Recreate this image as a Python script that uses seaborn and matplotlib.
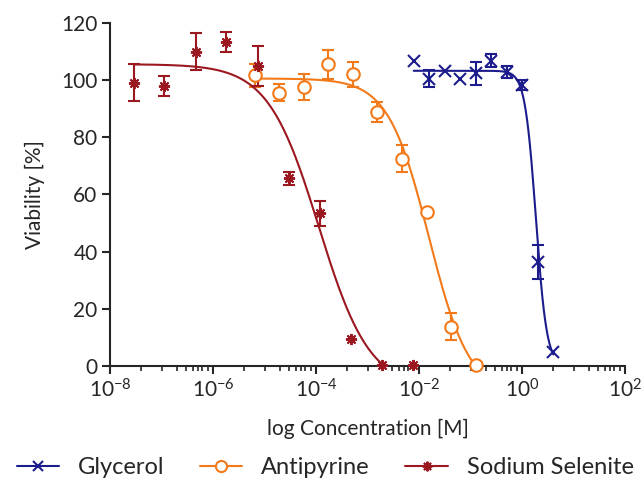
import numpy as np
import pandas as pd
import matplotlib
matplotlib.use('Agg')
import matplotlib.pyplot as plt
import seaborn as sns
from matplotlib.lines import Line2D
from matplotlib.ticker import FixedLocator, LogFormatterMathtext, NullFormatter

# ---- data ----
compounds = ['Glycerol', 'Antipyrine', 'Sodium Selenite']
colors = ['#1c1c8c', '#f27a1a', '#9c1820']

glycerol_conc = [0.0078, 0.0156, 0.03125, 0.0625, 0.125, 0.25, 0.5, 1.0, 2.0, 4.0]
glycerol_via = [106.7, 100.5, 103.2, 100.2, 102.3, 106.7, 102.8, 98.2, 36.4, 5.0]
glycerol_sd = [0, 2.8, 0, 0, 4.1, 2.2, 2.0, 1.7, 6.0, 0]

antipyrine_conc = [6.4e-6, 1.9e-5, 5.7e-5, 1.7e-4, 5.1e-4, 1.5e-3, 4.6e-3, 1.4e-2, 4.2e-2, 1.25e-1]
antipyrine_via = [101.7, 95.6, 97.6, 105.5, 101.9, 88.8, 72.5, 53.7, 13.7, 0.3]
antipyrine_sd = [4.0, 2.9, 4.5, 5.1, 4.3, 3.5, 4.7, 0, 4.7, 0]

selenite_conc = [2.9e-8, 1.1e-7, 4.6e-7, 1.8e-6, 7.3e-6, 2.9e-5, 1.2e-4, 4.7e-4, 1.9e-3, 7.5e-3]
selenite_via = [99.1, 97.8, 109.8, 113.3, 104.9, 65.6, 53.4, 9.4, 0.3, 0.3]
selenite_sd = [6.5, 3.5, 6.5, 3.6, 7.0, 2.4, 4.3, 0, 0, 0]

# fitted 4PL curves: top, bottom, logIC50, hill slope
glycerol_fit = [103.2, 0.0, 0.264, 4.1]
antipyrine_fit = [100.5, -10.0, -1.815, 1.10]
selenite_fit = [105.5, -8.0, -3.95, 0.88]

rows = []
for name, conc, via, sd in zip(compounds,
                               [glycerol_conc, antipyrine_conc, selenite_conc],
                               [glycerol_via, antipyrine_via, selenite_via],
                               [glycerol_sd, antipyrine_sd, selenite_sd]):
    for c, v, s in zip(conc, via, sd):
        rows.append({'compound': name, 'conc': c, 'viability': v, 'sd': s})
df = pd.DataFrame(rows)


def fit_curve(conc, params):
    top, bottom, logic50, hill = params
    lx = np.linspace(np.log10(min(conc)), np.log10(max(conc)), 400)
    y = bottom + (top - bottom) / (1 + 10 ** (hill * (lx - logic50)))
    keep = y >= 0
    return pd.DataFrame({'conc': 10 ** lx[keep], 'viability': y[keep]})


# marker styles per compound (Prism-like symbols)
marker_kw = {
    'Glycerol': dict(marker='x', ms=8, mew=1.5),
    'Antipyrine': dict(marker='o', ms=9, mfc='white', mew=1.5),
    'Sodium Selenite': dict(marker=(8, 2, 0), ms=8, mew=1.4),
}

sns.set_style('ticks')
plt.rcParams['font.family'] = ['Lato', 'DejaVu Sans']
plt.rcParams['mathtext.default'] = 'regular'
txt = '#262626'

fig = plt.figure(figsize=(6.44, 4.83), dpi=100)
ax = fig.add_axes([0.171, 0.242, 0.80, 0.711])
ax.set_xscale('log')

fits = [glycerol_fit, antipyrine_fit, selenite_fit]
concs = [glycerol_conc, antipyrine_conc, selenite_conc]
for name, col, fit, conc in zip(compounds, colors, fits, concs):
    curve = fit_curve(conc, fit)
    sns.lineplot(data=curve, x='conc', y='viability', ax=ax, color=col,
                 lw=1.5, sort=False, estimator=None)
    sub = df[df['compound'] == name]
    has_err = sub[sub['sd'] > 0]
    ax.errorbar(has_err['conc'], has_err['viability'], yerr=has_err['sd'],
                fmt='none', ecolor=col, elinewidth=1.5, capsize=4,
                capthick=1.5, clip_on=False)
    ax.plot(sub['conc'], sub['viability'], ls='none', color=col, mec=col,
            clip_on=False, zorder=4, **marker_kw[name])

ax.set_xlim(1e-8, 1e2)
ax.set_ylim(0, 120)
ax.set_yticks([0, 20, 40, 60, 80, 100, 120])
ax.xaxis.set_major_locator(FixedLocator([1e-8, 1e-6, 1e-4, 1e-2, 1e0, 1e2]))
ax.xaxis.set_major_formatter(LogFormatterMathtext())
minor = []
for dec in [-8, -6, -4, -2, 0]:
    for m in [4, 10, 20, 30, 40, 50, 60, 80]:
        minor.append(m * 10.0 ** dec)
ax.xaxis.set_minor_locator(FixedLocator(minor))
ax.xaxis.set_minor_formatter(NullFormatter())

for side in ['top', 'right']:
    ax.spines[side].set_visible(False)
for side in ['left', 'bottom']:
    ax.spines[side].set_linewidth(1.5)
    ax.spines[side].set_color(txt)
ax.tick_params(axis='both', which='major', length=6, width=1.5,
               labelsize=15, colors=txt, labelcolor=txt, pad=3)
ax.tick_params(axis='x', which='minor', length=3.5, width=1.2, colors=txt)

ax.set_xlabel('log Concentration [M]', fontsize=15, color=txt, labelpad=12)
ax.set_ylabel('Viability [%]', fontsize=15, color=txt, labelpad=12)

handles = []
for name, col in zip(compounds, colors):
    kw = dict(marker_kw[name])
    kw['ms'] = kw['ms'] - 1
    handles.append(Line2D([], [], color=col, mec=col, lw=1.5, **kw))
fig.legend(handles, compounds, loc='center', bbox_to_anchor=(0.505, 0.032),
           ncol=3, frameon=False, fontsize=17, handlelength=1.8,
           handletextpad=0.8, columnspacing=1.5, numpoints=1,
           labelcolor=txt, borderpad=0.2)

fig.savefig('out.png', dpi=100)
